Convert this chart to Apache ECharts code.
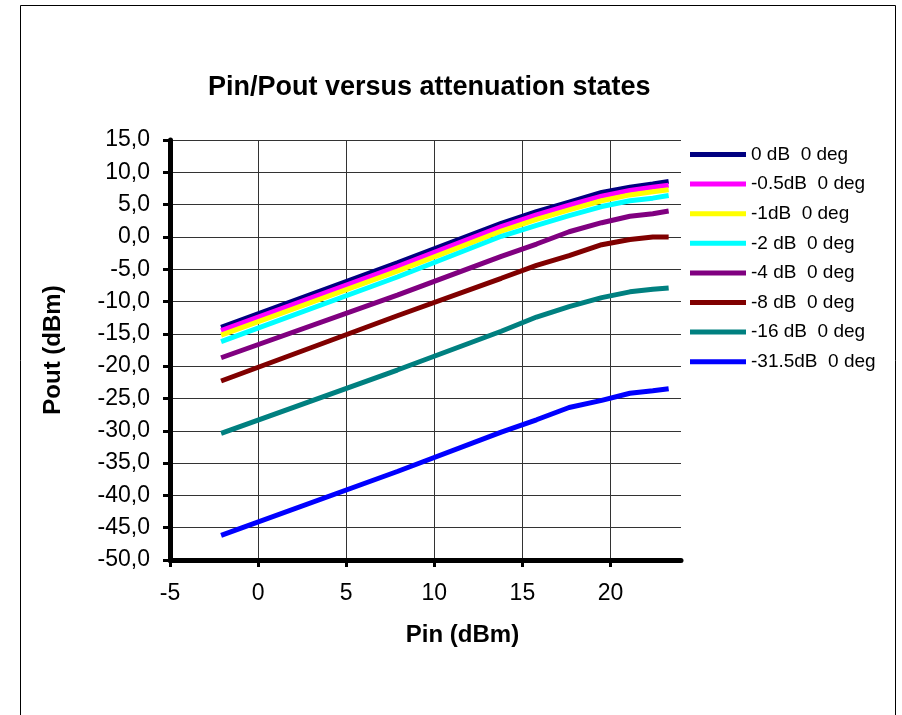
<!DOCTYPE html>
<html><head><meta charset="utf-8">
<script src="https://cdn.jsdelivr.net/npm/echarts@6/dist/echarts.min.js"></script>
<style>html,body{margin:0;padding:0;background:#fff}#c{width:902px;height:715px}</style>
</head><body><div id="c"></div>
<script>
// ---- data ----
const pinValues = [-2.1, 7.9, 13.8, 15.8, 17.65, 19.5, 21.1, 22.4, 23.3];
const seriesNames = ['0 dB  0 deg', '-0.5dB  0 deg', '-1dB  0 deg', '-2 dB  0 deg', '-4 dB  0 deg', '-8 dB  0 deg', '-16 dB  0 deg', '-31.5dB  0 deg'];
const pout_0dB    = [-14.0, -4.0, 2.1, 3.9, 5.4, 6.9, 7.7, 8.2, 8.6];
const pout_m0_5dB = [-14.5, -4.6, 1.6, 3.4, 4.9, 6.3, 7.2, 7.7, 8.0];
const pout_m1dB   = [-15.2, -5.3, 0.9, 2.7, 4.2, 5.6, 6.5, 7.0, 7.3];
const pout_m2dB   = [-16.2, -6.2, 0.1, 1.8, 3.3, 4.7, 5.6, 6.0, 6.4];
const pout_m4dB   = [-18.7, -9.0, -3.0, -1.1, 0.8, 2.2, 3.2, 3.6, 4.0];
const pout_m8dB   = [-22.3, -12.2, -6.4, -4.4, -2.9, -1.2, -0.4, 0.0, 0.0];
const pout_m16dB  = [-30.4, -20.6, -14.6, -12.4, -10.8, -9.4, -8.5, -8.1, -7.9];
const pout_m31_5dB= [-46.2, -36.3, -30.2, -28.3, -26.4, -25.3, -24.2, -23.8, -23.5];
const xTickMin = -5, xTickMax = 20, xTickStep = 5, xAxisEnd = 24;
const yTickMin = -50, yTickMax = 15, yTickStep = 5;

const allPout = [pout_0dB, pout_m0_5dB, pout_m1dB, pout_m2dB, pout_m4dB, pout_m8dB, pout_m16dB, pout_m31_5dB];
const colors = ['#000080', '#FF00FF', '#FFFF00', '#00FFFF', '#800080', '#800000', '#008080', '#0000FF'];
const FF = '"Liberation Sans", Arial, sans-serif';

const chart = echarts.init(document.getElementById('c'), null, {renderer: 'canvas'});
const plotW = 511, plotH = 420;
const tickGridW = plotW * (xTickMax - xTickMin) / (xAxisEnd - xTickMin);

chart.setOption({
  animation: false,
  backgroundColor: '#fff',
  title: {
    text: 'Pin/Pout versus attenuation states',
    left: 203, top: 69,
    textStyle: {fontFamily: FF, fontSize: 27, fontWeight: 'bold', color: '#000'}
  },
  graphic: [{
    type: 'rect', silent: true,
    shape: {x: 20.5, y: 5.5, width: 875, height: 730},
    style: {fill: 'none', stroke: '#000', lineWidth: 1}
  }],
  legend: {
    orient: 'vertical', left: 685, top: 140,
    itemWidth: 56, itemHeight: 5, itemGap: 10.6, icon: 'rect',
    textStyle: {fontFamily: FF, fontSize: 19, color: '#000', lineHeight: 18},
    data: seriesNames
  },
  grid: [
    {left: 170, top: 140, width: plotW, height: plotH},
    {left: 170, top: 140, width: tickGridW, height: plotH}
  ],
  xAxis: [
    {
      gridIndex: 0, type: 'value', min: xTickMin, max: xAxisEnd,
      axisLine: {show: true, onZero: false, lineStyle: {color: '#000', width: 5}},
      axisTick: {show: false}, axisLabel: {show: false}, splitLine: {show: false},
      name: 'Pin (dBm)', nameLocation: 'middle', nameGap: 63,
      nameTextStyle: {fontFamily: FF, fontSize: 24, fontWeight: 'bold', color: '#000', padding: [0, 0, 0, 74]}
    },
    {
      gridIndex: 1, type: 'value', min: xTickMin, max: xTickMax, interval: xTickStep,
      axisLine: {show: false, onZero: false},
      axisTick: {show: true, length: 7, lineStyle: {color: '#000', width: 3}},
      axisLabel: {margin: 22, fontFamily: FF, fontSize: 23, color: '#000'},
      splitLine: {show: true, lineStyle: {color: '#333', width: 1}}
    }
  ],
  yAxis: [
    {
      gridIndex: 0, type: 'value', min: yTickMin, max: yTickMax, interval: yTickStep,
      axisLine: {show: true, onZero: false, lineStyle: {color: '#000', width: 5}},
      axisTick: {show: true, length: 7, lineStyle: {color: '#000', width: 3}},
      axisLabel: {margin: 20, fontFamily: FF, fontSize: 23, color: '#000',
        formatter: v => v.toFixed(1).replace('.', ',')},
      splitLine: {show: true, lineStyle: {color: '#333', width: 1}},
      name: 'Pout (dBm)', nameLocation: 'middle', nameGap: 105,
      nameTextStyle: {fontFamily: FF, fontSize: 24, fontWeight: 'bold', color: '#000'}
    },
    {gridIndex: 1, type: 'value', min: yTickMin, max: yTickMax, show: false}
  ],
  series: seriesNames.map((name, k) => ({
    name, type: 'line', xAxisIndex: 0, yAxisIndex: 0,
    symbol: 'none', showSymbol: false,
    color: colors[k],
    lineStyle: {color: colors[k], width: 5},
    data: pinValues.map((x, i) => [x, allPout[k][i]])
  }))
});
</script></body></html>
